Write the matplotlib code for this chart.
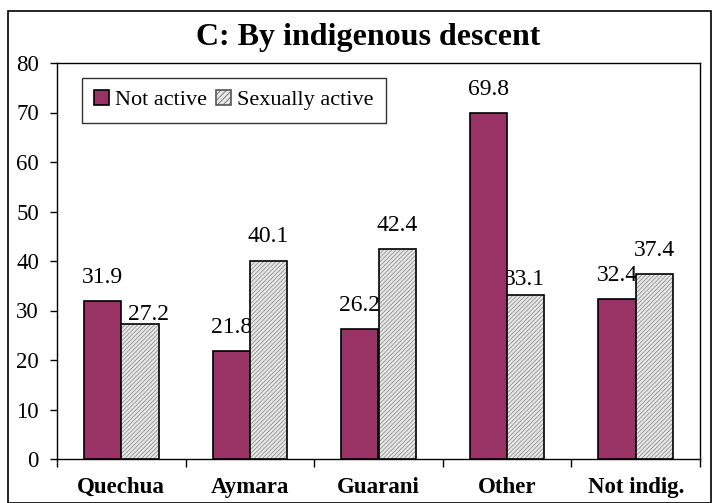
import matplotlib
matplotlib.use("Agg")
import matplotlib.pyplot as plt
import matplotlib.patches as mpatches
import numpy as np

categories = ["Quechua", "Aymara", "Guarani", "Other", "Not indig."]
not_active = [31.9, 21.8, 26.2, 69.8, 32.4]
sexually_active = [27.2, 40.1, 42.4, 33.1, 37.4]
series_names = ["Not active", "Sexually active"]

plt.rcParams['font.family'] = ['Liberation Serif', 'DejaVu Serif']
plt.rcParams['hatch.linewidth'] = 0.5


def plot_chart():
    fig = plt.figure(figsize=(7.12, 5.03), dpi=100)
    ax = fig.add_axes([57 / 712, 44 / 503, 643 / 712, 396 / 503])

    x = np.arange(len(categories))
    w = 0.29
    purple = '#993366'

    ax.bar(x - w / 2, not_active, w, color=purple, edgecolor='black',
           linewidth=1.2, zorder=3)
    # hatched fill first, then a black outline on top
    ax.bar(x + w / 2, sexually_active, w, color='#e8e8e8', edgecolor='#808080',
           hatch='////////', linewidth=0, zorder=3)
    ax.bar(x + w / 2, sexually_active, w, fill=False, edgecolor='black',
           linewidth=1.2, zorder=4)

    # a couple of labels sit nudged in the original (points)
    nudge_active = {0: (6, 3), 3: (-1, 7.5)}
    for i in range(len(categories)):
        ax.annotate(f"{not_active[i]:.1f}", (x[i] - w / 2, not_active[i]),
                    xytext=(0, 13), textcoords='offset points',
                    ha='center', va='baseline', fontsize=17, zorder=1)
        dx, dy = nudge_active.get(i, (0, 13))
        ax.annotate(f"{sexually_active[i]:.1f}", (x[i] + w / 2, sexually_active[i]),
                    xytext=(dx, dy), textcoords='offset points',
                    ha='center', va='baseline', fontsize=17, zorder=1)

    ax.set_xlim(-0.5, len(categories) - 0.5)
    ax.set_ylim(0, 80)
    ax.set_yticks(np.arange(0, 81, 10))
    ax.tick_params(axis='y', labelsize=16.5, length=5, width=1, direction='out', pad=8)

    ax.set_xticks(x)
    ax.set_xticklabels(categories, fontsize=16.5, fontweight='bold')
    ax.set_xticks(np.arange(-0.5, len(categories)), minor=True)
    ax.tick_params(axis='x', which='major', length=0, pad=13)
    ax.tick_params(axis='x', which='minor', length=6, width=1, direction='out')

    for s in ax.spines.values():
        s.set_linewidth(1)
        s.set_color('black')

    handles = [mpatches.Patch(facecolor=purple, edgecolor='black', linewidth=1.2),
               mpatches.Patch(facecolor='#e8e8e8', edgecolor='#555555', hatch='//////',
                              linewidth=1.2)]
    leg = ax.legend(handles, series_names, loc='upper left',
                    bbox_to_anchor=(0.039, 0.962), ncol=2, fontsize=16,
                    frameon=True, fancybox=False, shadow=False,
                    handlelength=0.65, handleheight=0.65, handletextpad=0.3,
                    columnspacing=0.4, borderpad=0.55, borderaxespad=0)
    leg.get_frame().set_edgecolor('black')
    leg.get_frame().set_linewidth(1)

    fig.text(368 / 712, (503 - 37) / 503, "C: By indigenous descent", ha='center',
             va='center', fontsize=23, fontweight='bold')

    border = mpatches.Rectangle((8 / 712, 0.5 / 503), 703 / 712, 492 / 503,
                                transform=fig.transFigure, fill=False,
                                edgecolor='black', linewidth=1.2)
    fig.patches.append(border)

    fig.savefig("out.png", dpi=100)


if __name__ == "__main__":
    plot_chart()
